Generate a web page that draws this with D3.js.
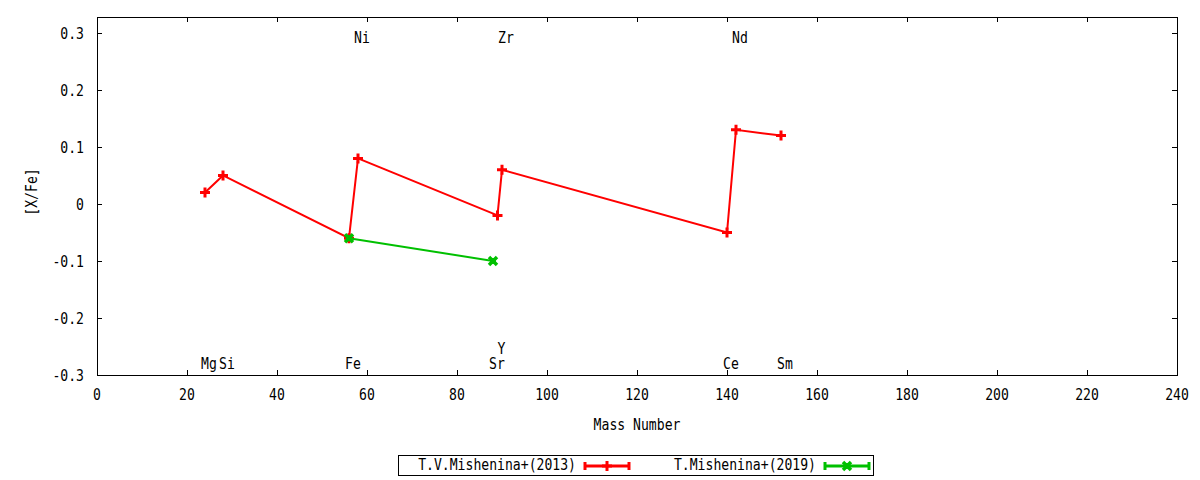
<!DOCTYPE html>
<html>
<head>
<meta charset="utf-8">
<script src="https://cdn.jsdelivr.net/npm/d3@7"></script>
<style>
  body { margin: 0; background: #fff; }
  svg text { font-family: "DejaVu Sans Mono", monospace; font-size: 15px; fill: #000; }
</style>
</head>
<body>
<div id="chart"></div>
<script>
// T.V.Mishenina+(2013)
const massA = [24, 28, 56, 58, 89, 90, 140, 142, 152];
const abundA = [0.02, 0.05, -0.06, 0.08, -0.02, 0.06, -0.05, 0.13, 0.12];
// T.Mishenina+(2019)
const massB = [56, 88];
const abundB = [-0.06, -0.10];

const seriesNames = ["T.V.Mishenina+(2013)", "T.Mishenina+(2019)"];

// element labels: name, mass number, row (top / bottom / above bottom)
const elemNames = ["Mg", "Si", "Fe", "Ni", "Sr", "Y", "Zr", "Ce", "Nd", "Sm"];
const elemMass = [24, 28, 56, 58, 88, 89, 90, 140, 142, 152];
const elemRow = ["bot", "bot", "bot", "top", "bot", "bot2", "top", "bot", "top", "bot"];

const xTicks = d3.range(0, 241, 20);
const yTicks = [-0.3, -0.2, -0.1, 0, 0.1, 0.2, 0.3];

const W = 1200, H = 480;
const m = { left: 97, right: 23, top: 17, bottom: 105 };
const SX = 0.875; // narrow glyphs, like the gnuplot font

const svg = d3.select("#chart").append("svg")
  .attr("width", W).attr("height", H);

// text helper: condensed horizontally
function txt(parent, px, py, str, anchor, rot) {
  return parent.append("text")
    .attr("transform", `translate(${px},${py})` + (rot ? ` rotate(${rot})` : "") + ` scale(${SX},1)`)
    .attr("text-anchor", anchor || "middle")
    .text(str);
}

const x = d3.scaleLinear().domain([0, 240]).range([m.left, W - m.right]);
const y = d3.scaleLinear().domain([-0.3, 0.328]).range([H - m.bottom, m.top]);

const x0 = x.range()[0], x1 = x.range()[1];
const y0 = y.range()[0], y1 = y.range()[1];
const tl = 5;

// ticks on all four sides, pointing in
const g = svg.append("g").attr("stroke", "#000").attr("stroke-width", 1);
xTicks.forEach(t => {
  const px = Math.round(x(t)) + 0.5;
  g.append("line").attr("x1", px).attr("x2", px).attr("y1", y0).attr("y2", y0 - tl);
  g.append("line").attr("x1", px).attr("x2", px).attr("y1", y1).attr("y2", y1 + tl);
});
yTicks.forEach(t => {
  const py = Math.round(y(t)) + 0.5;
  g.append("line").attr("x1", x0).attr("x2", x0 + tl).attr("y1", py).attr("y2", py);
  g.append("line").attr("x1", x1).attr("x2", x1 - tl).attr("y1", py).attr("y2", py);
});
svg.append("rect")
  .attr("x", x0 + 0.5).attr("y", y1 + 0.5)
  .attr("width", x1 - x0).attr("height", y0 - y1)
  .attr("fill", "none").attr("stroke", "#000");

const gx = svg.append("g");
xTicks.forEach(t => txt(gx, x(t), y0 + 25, t));

const gy = svg.append("g");
yTicks.forEach(t => txt(gy, x0 - 13, y(t) + 6, t === 0 ? "0" : t.toFixed(1), "end"));

txt(svg, (x0 + x1) / 2, 430, "Mass Number");
txt(svg, 37, 192, "[X/Fe]", "middle", -90);

// element labels
const rowY = { top: 43, bot: 369, bot2: 354 };
const ge = svg.append("g");
elemNames.forEach((nm, i) => txt(ge, x(elemMass[i]) + 4, rowY[elemRow[i]], nm));

const line = d3.line().x(d => x(d[0])).y(d => y(d[1]));

function plus(sel, color) {
  sel.append("path")
    .attr("d", "M-5,0H5M0,-5V5")
    .attr("stroke", color).attr("stroke-width", 3).attr("fill", "none");
}
function cross(sel, color) {
  sel.append("path")
    .attr("d", "M-4,-4L4,4M-4,4L4,-4")
    .attr("stroke", color).attr("stroke-width", 3.5).attr("fill", "none");
  sel.append("rect").attr("x", -3).attr("y", -3).attr("width", 6).attr("height", 6)
    .attr("fill", color);
}

const series = [
  { pts: d3.zip(massA, abundA), color: "#ff0000", mark: plus },
  { pts: d3.zip(massB, abundB), color: "#00c000", mark: cross }
];

series.forEach(s => {
  svg.append("path").datum(s.pts)
    .attr("d", line)
    .attr("fill", "none").attr("stroke", s.color).attr("stroke-width", 2);
  svg.append("g").selectAll("g").data(s.pts).join("g")
    .attr("transform", d => `translate(${x(d[0])},${y(d[1])})`)
    .each(function () { s.mark(d3.select(this), s.color); });
});

// legend
const lg = svg.append("g");
lg.append("rect").attr("x", 398.5).attr("y", 455.5).attr("width", 475).attr("height", 20)
  .attr("fill", "none").attr("stroke", "#000");
const legX = [576, 816];
seriesNames.forEach((name, i) => {
  const s = series[i];
  const tx = legX[i];
  txt(lg, tx, 470, name, "end");
  const sx = tx + 9, ex = sx + 44, ly = 466;
  lg.append("line").attr("x1", sx).attr("x2", ex).attr("y1", ly).attr("y2", ly)
    .attr("stroke", s.color).attr("stroke-width", 3);
  [sx, ex].forEach(cx => lg.append("line")
    .attr("x1", cx).attr("x2", cx).attr("y1", ly - 4).attr("y2", ly + 4)
    .attr("stroke", s.color).attr("stroke-width", 3));
  const mg = lg.append("g").attr("transform", `translate(${(sx + ex) / 2},${ly})`);
  s.mark(mg, s.color);
});
</script>
</body>
</html>
